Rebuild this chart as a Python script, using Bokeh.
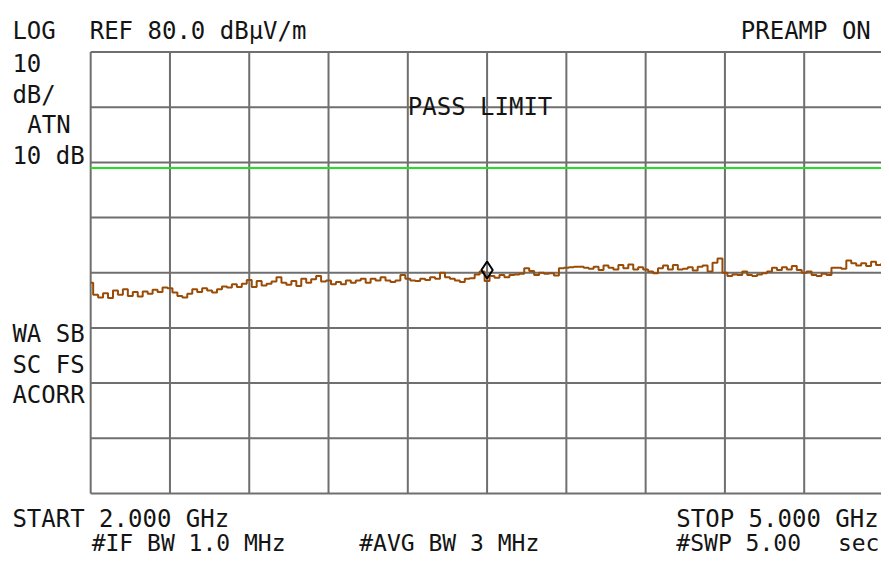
import numpy as np
from bokeh.plotting import figure
from bokeh.models import Label, Range1d, ColumnDataSource
from bokeh.embed import file_html
from bokeh.resources import INLINE

# ---------------- data ----------------
freq_start_ghz = 2.0
freq_stop_ghz = 5.0
ref_level_db = 80.0
db_per_div = 10.0
x_grid_ghz = [2.0, 2.3, 2.6, 2.9, 3.2, 3.5, 3.8, 4.1, 4.4, 4.7, 5.0]
y_grid_db = [0, 10, 20, 30, 40, 50, 60, 70, 80]
limit_db = 59.0
marker_ghz = 3.5
marker_db = 40.5

trace_db = [
    38.2, 36.0, 35.5, 36.3, 35.4, 36.8, 36.0, 37.0, 35.8, 36.5, 35.7, 36.6, 36.2, 36.9, 36.5, 37.3,
    37.2, 36.4, 35.8, 35.5, 36.2, 37.0, 36.5, 37.2, 36.8, 36.4, 37.0, 37.5, 37.3, 37.9, 37.4, 38.0,
    38.7, 37.4, 38.5, 37.7, 38.0, 38.4, 39.2, 38.2, 37.8, 38.5, 37.6, 38.9, 38.2, 38.8, 39.4, 38.4,
    38.6, 37.9, 38.3, 37.9, 38.6, 38.2, 38.6, 38.9, 38.2, 38.9, 38.6, 39.2, 38.6, 38.3, 38.6, 39.6,
    38.9, 38.6, 38.5, 38.9, 38.7, 39.2, 38.9, 40.0, 39.2, 38.9, 38.6, 38.3, 38.9, 39.0, 39.7, 40.2,
    38.5, 39.4, 39.1, 39.6, 39.2, 39.6, 39.7, 39.8, 40.8, 40.3, 39.6, 40.0, 39.8, 39.9, 39.5, 40.8,
    40.9, 41.0, 41.1, 41.1, 40.9, 40.7, 41.1, 40.5, 41.3, 40.9, 40.6, 41.4, 40.8, 41.5, 40.6, 41.0,
    40.6, 40.2, 39.9, 40.8, 41.3, 40.6, 41.4, 40.6, 40.7, 41.0, 40.4, 41.1, 41.3, 40.2, 41.8, 42.6,
    40.0, 39.4, 39.7, 39.6, 40.2, 39.6, 39.4, 39.7, 39.9, 40.2, 40.9, 40.5, 41.0, 40.6, 41.2, 40.5,
    40.0, 40.2, 39.6, 39.4, 39.8, 39.6, 40.9, 40.9, 40.7, 42.2, 41.7, 41.3, 41.7, 41.2, 42.0, 41.4,
    41.6,
]

trace_freq = np.linspace(freq_start_ghz, freq_stop_ghz, len(trace_db))

# ---------------- layout ----------------
W, H = 881, 560
REF_W, REF_H = 889.0, 576.0


def fx(px):
    return px * W / REF_W


def fy(py):
    return py * H / REF_H


PX_PER_GHZ = (fx(891) - fx(91)) / 3.0
PX_PER_DB = (fy(507) - fy(53)) / 80.0

x0 = freq_start_ghz - fx(91) / PX_PER_GHZ
x1 = x0 + W / PX_PER_GHZ
y1 = ref_level_db + fy(53) / PX_PER_DB
y0 = y1 - H / PX_PER_DB


def sx(px):
    return x0 + fx(px) / PX_PER_GHZ


def sy(py):
    return y1 - fy(py) / PX_PER_DB


p = figure(width=W, height=H, output_backend="svg", toolbar_location=None,
           x_range=Range1d(x0, x1), y_range=Range1d(y0, y1),
           min_border=0, min_border_left=0, min_border_right=0,
           min_border_top=0, min_border_bottom=0)
p.axis.visible = False
p.grid.visible = False
p.outline_line_color = None
p.background_fill_color = "white"
p.border_fill_color = "white"

GRID_COLOR = "#6f6f6f"
ymin, ymax = min(y_grid_db), max(y_grid_db)
xmin, xmax = min(x_grid_ghz), max(x_grid_ghz)
p.segment(x0=x_grid_ghz, y0=[ymin] * len(x_grid_ghz), x1=x_grid_ghz, y1=[ymax] * len(x_grid_ghz),
          line_color=GRID_COLOR, line_width=2)
p.segment(x0=[xmin] * len(y_grid_db), y0=y_grid_db, x1=[xmax] * len(y_grid_db), y1=y_grid_db,
          line_color=GRID_COLOR, line_width=2)

# limit line
p.line([xmin, xmax], [limit_db, limit_db], line_color="#22e01c", line_width=2)

# trace
src = ColumnDataSource(dict(f=trace_freq, v=trace_db))
p.step("f", "v", source=src, mode="center", line_color="#9a4c06", line_width=2)

# marker
p.scatter([marker_ghz], [marker_db], marker="diamond", size=17, fill_color=None,
          line_color="black", line_width=2)

FONT = "DejaVu Sans Mono"
FS = "24px"


def lab(text, px, py_base, align="left", size=FS):
    p.add_layout(Label(x=sx(px), y=sy(py_base), text=text, text_font=FONT,
                       text_font_size=size, text_color="#141414",
                       text_baseline="alphabetic", text_align=align))


lab("LOG", 12, 31)
lab("REF 80.0 dB\u00b5V/m", 90, 31)
lab("PREAMP ON", 747, 31)
lab("10", 12, 64)
lab("dB/", 12, 97)
lab("ATN", 27, 128)
lab("10 dB", 12, 160)
lab("PASS LIMIT", 411, 110)
lab("WA SB", 12, 343)
lab("SC FS", 12, 375)
lab("ACORR", 12, 406)
lab("START 2.000 GHz", 12, 533)
lab("STOP 5.000 GHz", 682, 533)
BOT = "23px"
lab("#IF BW 1.0 MHz", 92, 558, size=BOT)
lab("#AVG BW 3 MHz", 362, 558, size=BOT)
lab("#SWP 5.00", 682, 558, size=BOT)
lab("sec", 845, 558, size=BOT)

html = file_html(p, INLINE)
with open("out.html", "w") as fh:
    fh.write(html)
